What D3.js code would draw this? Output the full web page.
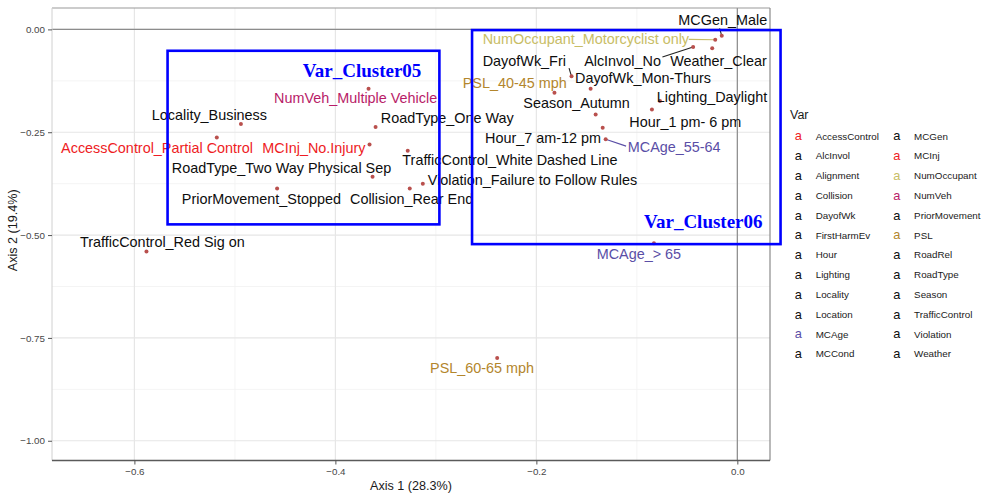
<!DOCTYPE html>
<html>
<head>
<meta charset="utf-8">
<script src="https://cdn.jsdelivr.net/npm/d3@7"></script>
<style>
  html, body { margin: 0; padding: 0; background: #fff; }
  svg { display: block; font-family: "Liberation Sans", Arial, sans-serif; }
</style>
</head>
<body>
<svg id="chart" width="988" height="494"></svg>
<script>
// ---------------- DATA ----------------
const names = [
  "MCGen_Male", "NumOccupant_Motorcyclist only", "AlcInvol_No", "Weather_Clear",
  "DayofWk_Fri", "DayofWk_Mon-Thurs", "PSL_40-45 mph", "Season_Autumn",
  "Lighting_Daylight", "Hour_1 pm- 6 pm", "Hour_7 am-12 pm", "MCAge_55-64",
  "MCAge_> 65", "PSL_60-65 mph", "TrafficControl_Red Sig on", "NumVeh_Multiple Vehicle",
  "Locality_Business", "AccessControl_Partial Control", "RoadType_One Way", "MCInj_No.Injury",
  "TrafficControl_White Dashed Line", "RoadType_Two Way Physical Sep",
  "Violation_Failure to Follow Rules", "Collision_Rear End", "PriorMovement_Stopped"
];
const axis1 = [
  -0.0155, -0.022, -0.044, -0.025,
  -0.165, -0.146, -0.182, -0.141,
  -0.077, -0.085, -0.134, -0.131,
  -0.083, -0.239, -0.588, -0.367,
  -0.494, -0.518, -0.360, -0.366,
  -0.328, -0.363,
  -0.313, -0.326, -0.458
];
const axis2 = [
  -0.0156, -0.025, -0.043, -0.046,
  -0.114, -0.144, -0.154, -0.207,
  -0.174, -0.195, -0.239, -0.267,
  -0.520, -0.799, -0.540, -0.144,
  -0.230, -0.263, -0.237, -0.280,
  -0.295, -0.358,
  -0.375, -0.387, -0.387
];
const legendVars = [
  "AccessControl", "AlcInvol", "Alignment", "Collision", "DayofWk", "FirstHarmEv",
  "Hour", "Lighting", "Locality", "Location", "MCAge", "MCCond",
  "MCGen", "MCInj", "NumOccupant", "NumVeh", "PriorMovement", "PSL",
  "RoadRel", "RoadType", "Season", "TrafficControl", "Violation", "Weather"
];
const xTicks = [-0.6, -0.4, -0.2, 0.0];
const yTicks = [0.00, -0.25, -0.50, -0.75, -1.00];
const clusterNames = ["Var_Cluster05", "Var_Cluster06"];
const clusterX0 = [-0.567, -0.264];
const clusterX1 = [-0.2965, 0.043];
const clusterY0 = [-0.474, -0.522];
const clusterY1 = [-0.052, -0.0017];

// ---------------- STYLE / LAYOUT ----------------
const varColors = {
  AccessControl: "#ee1c24", MCInj: "#ee1c24", NumOccupant: "#c8bd66",
  NumVeh: "#b81c68", PSL: "#b3862c", MCAge: "#5a4ea6"
};
const defaultColor = "#0d0d0d";
// label offsets (px) from the point: text start dx, baseline dy; optional leader end
const labelLayout = {
  "MCGen_Male": {dx: -43.4, dy: -10.7, lx: -2.2, ly: -7.4},
  "NumOccupant_Motorcyclist only": {dx: -232.5, dy: 4.4, lx: -26.5, ly: -0.3},
  "AlcInvol_No": {dx: -109, dy: 19, lx: -30.7, ly: 10},
  "Weather_Clear": {dx: -42, dy: 17.8},
  "DayofWk_Fri": {dx: -88.8, dy: -10.2, lx: -2.5, ly: -8.2},
  "DayofWk_Mon-Thurs": {dx: -15.6, dy: -5.2},
  "PSL_40-45 mph": {dx: -91.7, dy: -4.4},
  "Season_Autumn": {dx: -72.3, dy: -6.2},
  "Lighting_Daylight": {dx: -3.2, dy: 0.8},
  "Hour_1 pm- 6 pm": {dx: -22.6, dy: 17.8},
  "Hour_7 am-12 pm": {dx: -117.6, dy: 15.1},
  "MCAge_55-64": {dx: 22.1, dy: 12.6, lx: 20.4, ly: 6.9},
  "MCAge_> 65": {dx: -57.2, dy: 16.1},
  "PSL_60-65 mph": {dx: -67.1, dy: 15.3},
  "TrafficControl_Red Sig on": {dx: -66.4, dy: -4.5},
  "NumVeh_Multiple Vehicle": {dx: -94.5, dy: 14.8},
  "Locality_Business": {dx: -89.1, dy: -3.9},
  "AccessControl_Partial Control": {dx: -155.7, dy: 15.2},
  "RoadType_One Way": {dx: 5.2, dy: -3.5},
  "MCInj_No.Injury": {dx: -107.2, dy: 8.2},
  "TrafficControl_White Dashed Line": {dx: -5.4, dy: 14.6},
  "RoadType_Two Way Physical Sep": {dx: -200.8, dy: -3.9},
  "Violation_Failure to Follow Rules": {dx: 5, dy: 1.4},
  "Collision_Rear End": {dx: -59.7, dy: 15.5},
  "PriorMovement_Stopped": {dx: -95.3, dy: 15.5}
};

const panel = {left: 52, right: 770, top: 8, bottom: 460.5};
const svg = d3.select("#chart");

const x = d3.scaleLinear().domain([-0.682, 0.0325]).range([panel.left, panel.right]);
const y = d3.scaleLinear().domain([-1.048, 0.052]).range([panel.bottom, panel.top]);

const points = names.map((n, i) => ({name: n, v: n.split("_")[0], a1: axis1[i], a2: axis2[i]}));
const colorOf = v => varColors[v] || defaultColor;

// grid
const g = svg.append("g");
const xMinor = [-0.7, -0.5, -0.3, -0.1].filter(v => v > x.domain()[0]);
const yMinor = [-0.125, -0.375, -0.625, -0.875];
g.selectAll(".xminor").data(xMinor).join("line")
  .attr("x1", d => x(d)).attr("x2", d => x(d)).attr("y1", panel.top).attr("y2", panel.bottom)
  .attr("stroke", "#f1f1f1").attr("stroke-width", 0.8);
g.selectAll(".yminor").data(yMinor).join("line")
  .attr("y1", d => y(d)).attr("y2", d => y(d)).attr("x1", panel.left).attr("x2", panel.right)
  .attr("stroke", "#f1f1f1").attr("stroke-width", 0.8);
g.selectAll(".xmajor").data(xTicks).join("line")
  .attr("x1", d => x(d)).attr("x2", d => x(d)).attr("y1", panel.top).attr("y2", panel.bottom)
  .attr("stroke", "#e6e6e6").attr("stroke-width", 1.2);
g.selectAll(".ymajor").data(yTicks).join("line")
  .attr("y1", d => y(d)).attr("y2", d => y(d)).attr("x1", panel.left).attr("x2", panel.right)
  .attr("stroke", "#e6e6e6").attr("stroke-width", 1.2);

// reference lines at 0
g.append("line").attr("x1", panel.left).attr("x2", panel.right).attr("y1", y(0)).attr("y2", y(0))
  .attr("stroke", "#8c8c8c").attr("stroke-width", 1.2);
g.append("line").attr("x1", x(0)).attr("x2", x(0)).attr("y1", panel.top).attr("y2", panel.bottom)
  .attr("stroke", "#8c8c8c").attr("stroke-width", 1.2);

// panel border
g.append("line").attr("x1", panel.left).attr("x2", panel.right).attr("y1", panel.top).attr("y2", panel.top)
  .attr("stroke", "#9a9a9a").attr("stroke-width", 1.2);
g.append("line").attr("x1", panel.right).attr("x2", panel.right).attr("y1", panel.top).attr("y2", panel.bottom)
  .attr("stroke", "#8a8a8a").attr("stroke-width", 1.2);
g.append("line").attr("x1", panel.left).attr("x2", panel.left).attr("y1", panel.top).attr("y2", panel.bottom)
  .attr("stroke", "#d0d0d0").attr("stroke-width", 1);
g.append("line").attr("x1", panel.left).attr("x2", panel.right).attr("y1", panel.bottom).attr("y2", panel.bottom)
  .attr("stroke", "#5a5a5a").attr("stroke-width", 1.3);

// axes
const xAxis = d3.axisBottom(x).tickValues(xTicks).tickSize(4).tickPadding(4)
  .tickFormat(d => d === 0 ? "0.0" : d3.format(".1f")(d));
const yAxis = d3.axisLeft(y).tickValues(yTicks).tickSize(4).tickPadding(3)
  .tickFormat(d3.format(".2f"));
const xg = svg.append("g").attr("transform", `translate(0,${panel.bottom})`).call(xAxis);
const yg = svg.append("g").attr("transform", `translate(${panel.left},0)`).call(yAxis);
[xg, yg].forEach(a => {
  a.select(".domain").remove();
  a.selectAll(".tick line").attr("stroke", "#555").attr("stroke-width", 1);
  a.selectAll(".tick text").attr("fill", "#474747").style("font-size", "9.8px")
    .style("font-family", "'Liberation Sans', Arial, sans-serif");
});

svg.append("text").attr("x", 411).attr("y", 490)
  .attr("text-anchor", "middle").style("font-size", "12.6px").attr("fill", "#1a1a1a")
  .text("Axis 1 (28.3%)");
svg.append("text").attr("transform", `translate(17,${(panel.top + panel.bottom) / 2 - 4}) rotate(-90)`)
  .attr("text-anchor", "middle").style("font-size", "12.6px").attr("fill", "#1a1a1a")
  .text("Axis 2 (19.4%)");

// leader lines
const lg = svg.append("g");
points.forEach(p => {
  const L = labelLayout[p.name];
  if (L && L.lx !== undefined) {
    const c = colorOf(p.v);
    lg.append("line")
      .attr("x1", x(p.a1)).attr("y1", y(p.a2))
      .attr("x2", x(p.a1) + L.lx).attr("y2", y(p.a2) + L.ly)
      .attr("stroke", c === defaultColor ? "#222" : c).attr("stroke-width", 1.1);
  }
});

// points
svg.append("g").selectAll("circle").data(points).join("circle")
  .attr("cx", d => x(d.a1)).attr("cy", d => y(d.a2)).attr("r", 2)
  .attr("fill", "#b9504d");

// labels
svg.append("g").selectAll("text").data(points).join("text")
  .attr("x", d => x(d.a1) + labelLayout[d.name].dx)
  .attr("y", d => y(d.a2) + labelLayout[d.name].dy)
  .attr("fill", d => colorOf(d.v))
  .style("font-size", "14.4px")
  .text(d => d.name);

// cluster boxes
const clusters = clusterNames.map((n, i) => ({name: n, x0: clusterX0[i], x1: clusterX1[i], y0: clusterY0[i], y1: clusterY1[i]}));
svg.append("g").selectAll("rect").data(clusters).join("rect")
  .attr("x", d => x(d.x0)).attr("y", d => y(d.y1))
  .attr("width", d => x(d.x1) - x(d.x0)).attr("height", d => y(d.y0) - y(d.y1))
  .attr("fill", "none").attr("stroke", "#0000ff").attr("stroke-width", 2.6);
svg.append("g").selectAll("text").data(clusters).join("text")
  .attr("x", d => x(d.x1) - 18)
  .attr("y", (d, i) => i === 0 ? y(d.y1) + 26.6 : y(d.y0) - 15.7)
  .attr("text-anchor", "end")
  .attr("fill", "#0000ff")
  .style("font-family", "'Liberation Serif', 'Times New Roman', serif")
  .style("font-weight", "bold").style("font-size", "19px")
  .text(d => d.name);

// legend
const leg = svg.append("g");
leg.append("text").attr("x", 790).attr("y", 118.5).style("font-size", "12.5px").attr("fill", "#1a1a1a").text("Var");
const perCol = 12;
legendVars.forEach((v, i) => {
  const col = Math.floor(i / perCol), row = i % perCol;
  const kx = 798.3 + col * 98.4, ty = 136 + row * 19.8;
  leg.append("text").attr("x", kx).attr("y", ty + 4.3).attr("text-anchor", "middle")
    .style("font-size", "12.8px").attr("fill", colorOf(v)).text("a");
  leg.append("text").attr("x", kx + 17.4).attr("y", ty + 3.5)
    .style("font-size", "9.8px").attr("fill", "#1a1a1a").text(v);
});
</script>
</body>
</html>
